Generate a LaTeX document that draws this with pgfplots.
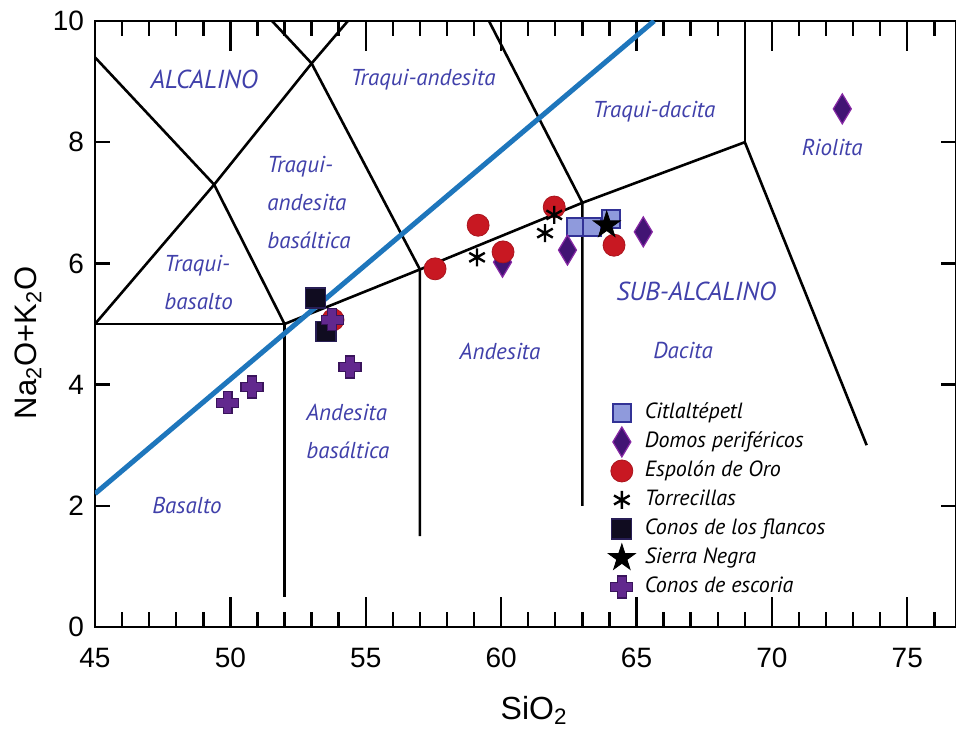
\documentclass[border=0pt]{standalone}
\usepackage{pgfplots}
\pgfplotsset{compat=1.18}
\usepackage{fontspec}
\setmainfont{Liberation Sans}
\newfontfamily\lbl{PT Sans}
\definecolor{lblblue}{RGB}{64,64,170}
\definecolor{sepblue}{RGB}{30,118,188}
\definecolor{citfill}{RGB}{143,154,220}
\definecolor{citdraw}{RGB}{50,50,150}
\definecolor{domfill}{RGB}{66,20,116}
\definecolor{domdraw}{RGB}{135,40,165}
\definecolor{espred}{RGB}{200,24,34}
\definecolor{conofill}{RGB}{16,12,32}
\definecolor{conodraw}{RGB}{40,30,85}
\definecolor{escfill}{RGB}{98,40,142}
\definecolor{escdraw}{RGB}{58,20,92}
\pgfdeclareplotmark{fatplus}{%
  \pgfpathmoveto{\pgfqpoint{-0.4\pgfplotmarksize}{\pgfplotmarksize}}%
  \pgfpathlineto{\pgfqpoint{0.4\pgfplotmarksize}{\pgfplotmarksize}}%
  \pgfpathlineto{\pgfqpoint{0.4\pgfplotmarksize}{0.4\pgfplotmarksize}}%
  \pgfpathlineto{\pgfqpoint{\pgfplotmarksize}{0.4\pgfplotmarksize}}%
  \pgfpathlineto{\pgfqpoint{\pgfplotmarksize}{-0.4\pgfplotmarksize}}%
  \pgfpathlineto{\pgfqpoint{0.4\pgfplotmarksize}{-0.4\pgfplotmarksize}}%
  \pgfpathlineto{\pgfqpoint{0.4\pgfplotmarksize}{-\pgfplotmarksize}}%
  \pgfpathlineto{\pgfqpoint{-0.4\pgfplotmarksize}{-\pgfplotmarksize}}%
  \pgfpathlineto{\pgfqpoint{-0.4\pgfplotmarksize}{-0.4\pgfplotmarksize}}%
  \pgfpathlineto{\pgfqpoint{-\pgfplotmarksize}{-0.4\pgfplotmarksize}}%
  \pgfpathlineto{\pgfqpoint{-\pgfplotmarksize}{0.4\pgfplotmarksize}}%
  \pgfpathlineto{\pgfqpoint{-0.4\pgfplotmarksize}{0.4\pgfplotmarksize}}%
  \pgfpathclose\pgfusepathqfillstroke}
\pgfdeclareplotmark{fstar}{%
  \pgfpathmoveto{\pgfqpoint{0pt}{\pgfplotmarksize}}%
  \pgfpathlineto{\pgfqpoint{-0.2245\pgfplotmarksize}{0.309\pgfplotmarksize}}%
  \pgfpathlineto{\pgfqpoint{-0.951\pgfplotmarksize}{0.309\pgfplotmarksize}}%
  \pgfpathlineto{\pgfqpoint{-0.363\pgfplotmarksize}{-0.118\pgfplotmarksize}}%
  \pgfpathlineto{\pgfqpoint{-0.588\pgfplotmarksize}{-0.809\pgfplotmarksize}}%
  \pgfpathlineto{\pgfqpoint{0pt}{-0.382\pgfplotmarksize}}%
  \pgfpathlineto{\pgfqpoint{0.588\pgfplotmarksize}{-0.809\pgfplotmarksize}}%
  \pgfpathlineto{\pgfqpoint{0.363\pgfplotmarksize}{-0.118\pgfplotmarksize}}%
  \pgfpathlineto{\pgfqpoint{0.951\pgfplotmarksize}{0.309\pgfplotmarksize}}%
  \pgfpathlineto{\pgfqpoint{0.2245\pgfplotmarksize}{0.309\pgfplotmarksize}}%
  \pgfpathclose\pgfusepathqfillstroke}
\tikzset{reg/.style={font=\lbl\itshape\fontsize{11.5}{19}\selectfont, text=lblblue, inner sep=0pt}}
\begin{document}
\begin{tikzpicture}
\useasboundingbox (-47.5pt,-53.5pt) rectangle (430.5pt,313.5pt);
\begin{axis}[
  at={(0pt,0pt)}, anchor=south west,
  scale only axis, width=430.5pt, height=303pt,
  xmin=45, xmax=76.8, ymin=0, ymax=10,
  axis line style={line width=1.3pt},
  every tick/.style={line width=1.2pt, black},
  tick align=inside,
  xtick={45,50,...,75}, minor xtick={46,...,76},
  major tick length=15pt, minor tick length=7.5pt,
  ytick=\empty, minor ytick={1,3,5,7,9},
  extra y ticks={0,2,4,6,8,10},
  extra y tick style={major tick length=7.5pt},
  /pgf/number format/assume math mode=true,
  ticklabel style={font=\fontsize{14}{16}\selectfont},
  xticklabel style={yshift=-7pt},
  yticklabel style={xshift=-2pt},
  xlabel={SiO\textsubscript{2}},
  ylabel={Na\textsubscript{2}O+K\textsubscript{2}O},
  xlabel style={font=\fontsize{16}{18}\selectfont, at={(axis description cs:0.51,-0.153)}, anchor=base},
  ylabel style={font=\fontsize{15.5}{18}\selectfont, at={(axis description cs:-0.078,0.469)}, anchor=center},
  legend image code/.code={\path[draw=none, fill=none] (0pt,-3pt) rectangle (12pt,3pt);
     \draw[overlay,mark repeat=2,mark phase=2,#1] plot coordinates {(0pt,0pt) (6pt,0pt) (12pt,0pt)};},
  legend style={at={(axis cs:64.0,3.72)}, anchor=north west, draw=none, fill=none,
     inner sep=0pt, row sep=3.5pt, column sep=5.5pt,
     font=\lbl\itshape\fontsize{11}{13}\selectfont,
     nodes={inner sep=0pt, text height=8.5pt, text depth=2.5pt}},
  legend cell align=left,
]
% classification lines
\addplot[black, line width=1.3pt, forget plot] coordinates {(45,9.4) (49.4,7.3) (52,5) (57,5.9) (63,7) (69,8) (73.5,3)};
\addplot[black, line width=1.3pt, forget plot] coordinates {(45,5) (49.4,7.3) (53,9.3) (54.34,10)};
\addplot[black, line width=1.3pt, forget plot] coordinates {(51.54,10) (53,9.3) (57,5.9) (57,1.5)};
\addplot[black, line width=1.3pt, forget plot] coordinates {(59.55,10) (63,7) (63,2)};
\addplot[black, line width=1.3pt, forget plot] coordinates {(69,10) (69,8)};
\addplot[black, line width=1.3pt, forget plot] coordinates {(45,5) (52,5) (52,0.5)};
% data
\addplot[only marks, mark=square*, mark size=4.5pt, mark options={fill=citfill, draw=citdraw, line width=0.7pt}]
  coordinates {(62.77,6.6) (63.36,6.6) (64.06,6.73)};
\addlegendentry{Citlaltépetl}
\addplot[only marks, mark=diamond*, mark size=7.5pt, mark options={fill=domfill, draw=domdraw, line width=0.6pt, xscale=0.8}]
  coordinates {(72.6,8.55) (65.25,6.52) (62.45,6.22) (60.05,6.02)};
\addlegendentry{Domos periféricos}
\addplot[only marks, mark=*, mark size=5.5pt, mark options={fill=espred, draw=espred!85!black, line width=0.4pt}]
  coordinates {(57.56,5.91) (59.15,6.63) (60.07,6.19) (61.96,6.93) (64.17,6.3) (53.79,5.07)};
\addlegendentry{Espolón de Oro}
\addplot[only marks, mark=asterisk, mark size=4.5pt, mark options={draw=black, line width=1.2pt}]
  coordinates {(59.11,6.1) (61.62,6.5) (61.96,6.8)};
\addlegendentry{Torrecillas}
\addplot[only marks, mark=square*, mark size=5pt, mark options={fill=conofill, draw=conodraw, line width=0.6pt}]
  coordinates {(53.13,5.43) (53.53,4.87)};
\addlegendentry{Conos de los flancos}
\addplot[only marks, mark=fstar, mark size=7pt, mark options={fill=black, draw=black, line width=0.4pt}]
  coordinates {(63.9,6.63)};
\addlegendentry{Sierra Negra}
\addplot[only marks, mark=fatplus, mark size=5.5pt, mark options={fill=escfill, draw=escdraw, line width=0.6pt}]
  coordinates {(49.9,3.7) (50.8,3.96) (54.42,4.29) (53.76,5.07)};
\addlegendentry{Conos de escoria}
% alkaline / subalkaline divide
\addplot[sepblue, line width=2.5pt, forget plot] coordinates {(45,2.2) (65.65,10)};
% region labels
\node[reg, font=\lbl\itshape\fontsize{13}{15}\selectfont] at (axis cs:49.03,9.03) {ALCALINO};
\node[reg] at (axis cs:57.12,9.03) {Traqui-andesita};
\node[reg] at (axis cs:65.65,8.51) {Traqui-dacita};
\node[reg] at (axis cs:72.23,7.92) {Riolita};
\node[reg, align=left, anchor=west] at (axis cs:51.35,7.0) {Traqui-\\andesita\\basáltica};
\node[reg, align=left, anchor=west] at (axis cs:47.55,5.69) {Traqui-\\basalto};
\node[reg, align=left, anchor=west] at (axis cs:52.79,3.23) {Andesita\\basáltica};
\node[reg, font=\lbl\itshape\fontsize{13}{15}\selectfont] at (axis cs:67.2,5.53) {SUB-ALCALINO};
\node[reg] at (axis cs:59.96,4.54) {Andesita};
\node[reg] at (axis cs:66.72,4.57) {Dacita};
\node[reg] at (axis cs:48.4,2.0) {Basalto};
\end{axis}
\end{tikzpicture}
\end{document}
